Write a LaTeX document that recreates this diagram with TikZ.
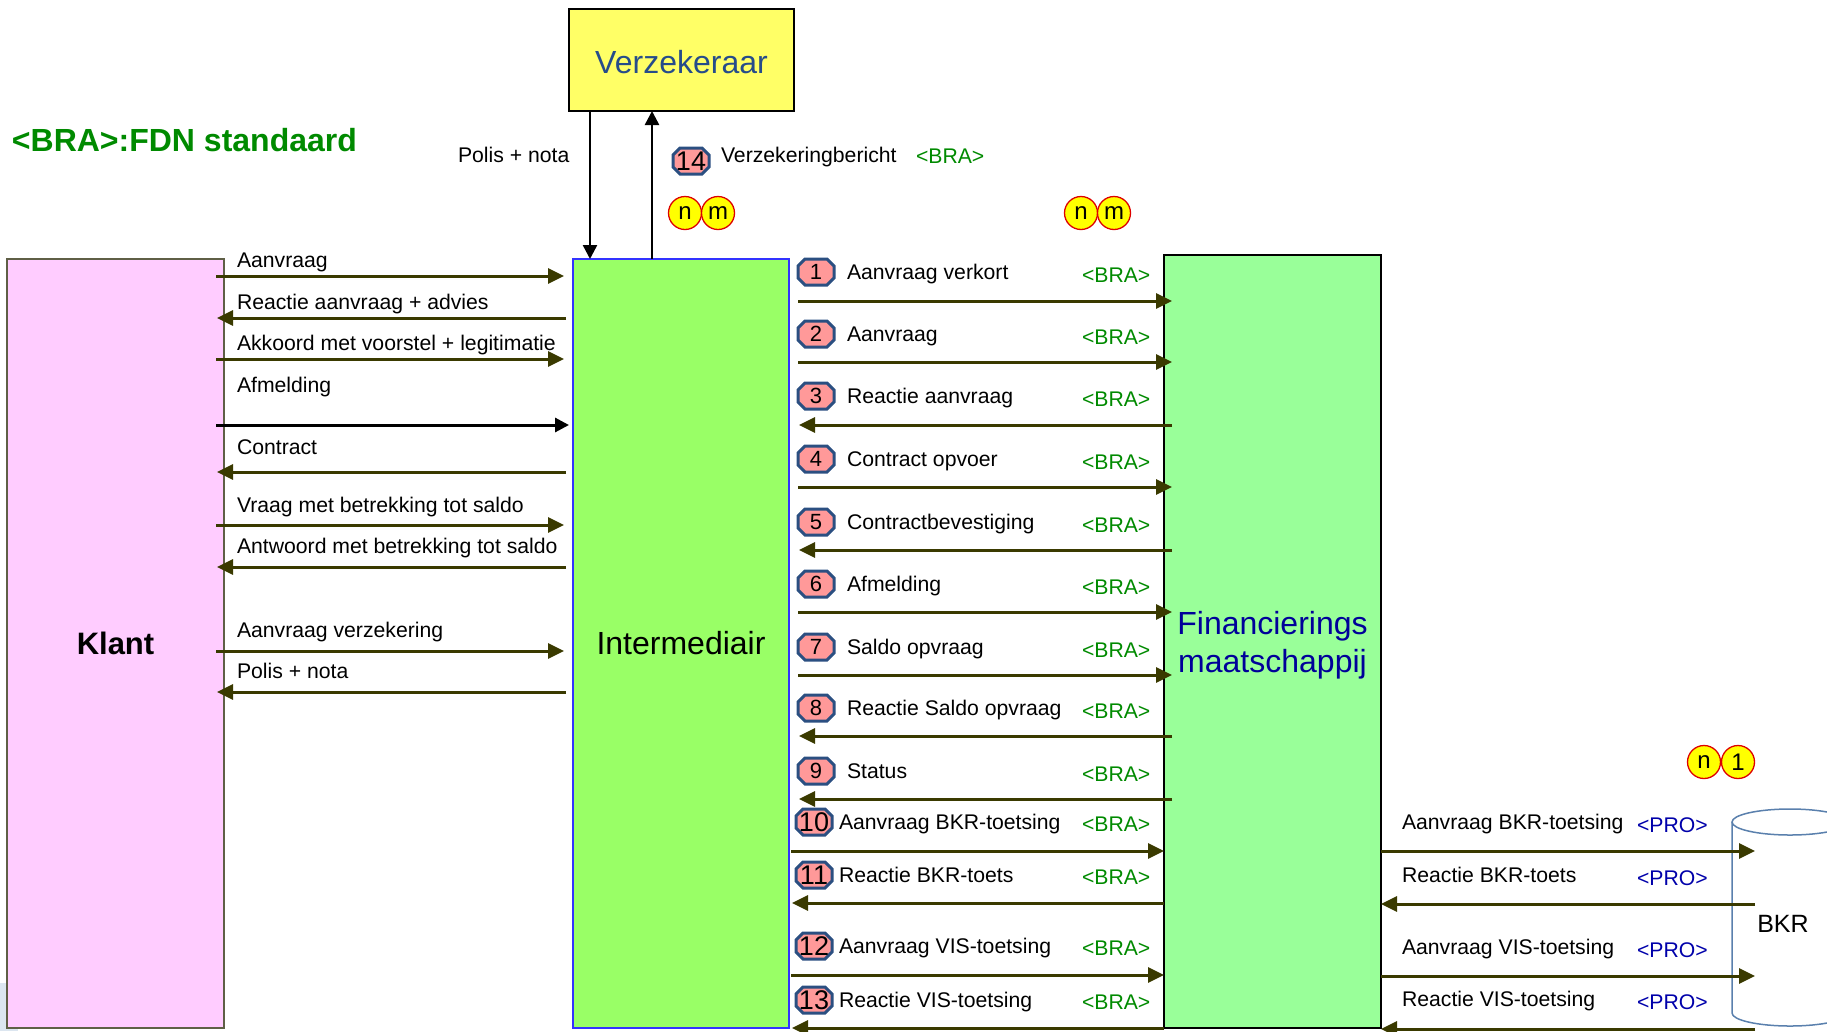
\documentclass[tikz,border=0pt]{standalone}
\usepackage{fontspec}
\setmainfont{Liberation Sans}
\usetikzlibrary{arrows.meta}

\definecolor{klantfill}{HTML}{FFCCFF}
\definecolor{klantedge}{HTML}{5F5F46}
\definecolor{intfill}{HTML}{99FF66}
\definecolor{intedge}{HTML}{3333FF}
\definecolor{finfill}{HTML}{99FF99}
\definecolor{verzfill}{HTML}{FFFF66}
\definecolor{msgline}{HTML}{3A3A00}
\definecolor{bragreen}{HTML}{008A00}
\definecolor{problue}{HTML}{0000AA}
\definecolor{badgefill}{HTML}{FF9999}
\definecolor{badgeedge}{HTML}{2B4F81}
\definecolor{finblue}{HTML}{000099}
\definecolor{verzblue}{HTML}{264C8A}
\definecolor{bkredge}{HTML}{5A80AD}
\definecolor{cornerblue}{HTML}{DCE6F0}
\definecolor{tagred}{HTML}{DD0000}
\definecolor{tagyellow}{HTML}{FFFF00}

% numbered octagonal badge: name, x, y, font size, number
\newcommand\drawbadge[5]{%
  \draw[badgeshape] ({#2-18},{#3-6}) -- ({#2-11},{#3-13}) -- ({#2+11},{#3-13})
    -- ({#2+18},{#3-6}) -- ({#2+18},{#3+6}) -- ({#2+11},{#3+13})
    -- ({#2-11},{#3+13}) -- ({#2-18},{#3+6}) -- cycle;
  \node[font=\fontsize{#4}{#4}\selectfont] (#1) at (#2,#3) {#5};}

\begin{document}
\begin{tikzpicture}[x=1pt,y=-1pt,
  every node/.style={inner sep=0pt, outer sep=0pt},
  txt/.style={font=\fontsize{21.2}{25}\selectfont, anchor=base west},
  bra/.style={txt, text=bragreen},
  pro/.style={txt, text=problue},
  flow/.style={draw=msgline, line width=3pt, -{Triangle[length=16pt,width=15pt]}},
  blackflow/.style={draw=black, line width=3pt, -{Triangle[length=14pt,width=14pt]}},
  vflow/.style={draw=black, line width=2.5pt, -{Triangle[length=14pt,width=14pt]}},
  badgeshape/.style={fill=badgefill, draw=badgeedge, line width=3pt, line join=miter},
  tag/.style={circle, minimum size=33pt, fill=tagyellow, draw=tagred, line width=1.3pt,
    font=\fontsize{24}{24}\selectfont},
  party/.style={anchor=north west, font=\fontsize{32}{35}\selectfont, align=center},
  partylabel/.style={font=\fontsize{32}{38}\selectfont, align=center},
]
\useasboundingbox (0,0) rectangle (1827,1031);
\clip (0,0) rectangle (1827,1031);

% small patch in the lower left corner
\fill[cornerblue] (0,983) rectangle (18,1031);

% the parties
\node[party, font=\fontsize{31}{35}\selectfont\bfseries, fill=klantfill, draw=klantedge,
  line width=2pt, minimum width=217pt, minimum height=769pt] (klant) at (7,259) {Klant};
\node[party, fill=intfill, draw=intedge, line width=1.2pt,
  minimum width=216pt, minimum height=769pt] (int) at (573,259) {Intermediair};
\node[party, fill=finfill, draw=black, line width=1.5pt,
  minimum width=217pt, minimum height=773pt] (fin) at (1164,255) {};
\node[partylabel, text=finblue] (finlab) at ([yshift=-4pt]fin.center) {Financierings\\maatschappij};
\node[party, fill=verzfill, draw=black, line width=1.5pt,
  minimum width=225pt, minimum height=102pt] (verz) at (569,9) {};
\node[partylabel, text=verzblue] (verzlab) at ([yshift=-2.5pt]verz.center) {Verzekeraar};

% BKR database
\draw[bkredge, line width=1.5pt, fill=white]
  (1732,822) -- (1732,1013) arc[start angle=180, end angle=360, x radius=58pt, y radius=13pt]
  -- (1848,822);
\draw[bkredge, line width=1.5pt, fill=white] (1790,822) ellipse [x radius=58pt, y radius=13pt];
\node[font=\fontsize{25}{25}\selectfont] (bkr) at (1783,924) {BKR};
\coordinate (bkrin) at (1755,0);

% legend
\node[anchor=base west, font=\fontsize{32}{35}\selectfont\bfseries, text=bragreen]
  (legend) at (12,151) {<BRA>:FDN standaard};

% Verzekeraar <-> Intermediair
\coordinate (dn) at (590,0);
\coordinate (up) at (652,0);
\draw[vflow] (verz.south -| dn) -- (int.north -| dn);
\draw[vflow] (int.north -| up) -- (verz.south -| up);
\node[txt] (polisv) at (458,162) {Polis + nota};
\drawbadge{b14}{691}{161}{27}{14}
\node[txt] (l14) at (721,162) {Verzekeringbericht};
\node[bra] (g14) at (916,163) {<BRA>};

% multiplicity tags
\node[tag] (t1n) at (685,213) {n};
\node[tag] (t1m) at (718,213) {m};
\node[tag] (t2n) at (1081,213) {n};
\node[tag] (t2m) at (1114,213) {m};
\node[tag] (t3n) at (1704,762) {n};
\node[tag] (t3o) at (1738,762) {1};

% Klant <-> Intermediair messages
\foreach \n/\bl/\lab in {1/267/Aanvraag, 2/309/Reactie aanvraag + advies,
    3/350/Akkoord met voorstel + legitimatie, 4/392/Afmelding, 5/454/Contract,
    6/512/Vraag met betrekking tot saldo, 7/553/Antwoord met betrekking tot saldo,
    8/637/Aanvraag verzekering, 9/678/Polis + nota}
  {\node[txt] (kl\n) at (237,\bl) {\lab};}
\foreach \n/\yy in {1/276, 2/318, 3/359, 4/425, 5/472, 6/525, 7/567, 8/651, 9/692}
  {\coordinate (kr\n) at (0,\yy);}
\foreach \n in {1,3,6,8}
  {\draw[flow, shorten <=-8pt, shorten >=9pt] (klant.east |- kr\n) -- (int.west |- kr\n);}
\foreach \n in {2,5,7,9}
  {\draw[flow, shorten <=7pt, shorten >=-7pt] (int.west |- kr\n) -- (klant.east |- kr\n);}
\draw[blackflow, shorten <=-8pt, shorten >=4pt] (klant.east |- kr4) -- (int.west |- kr4);

% Intermediair <-> Financieringsmaatschappij messages
\foreach \n/\by/\lab in {1/272/Aanvraag verkort, 2/334/Aanvraag, 3/396/Reactie aanvraag,
    4/459/Contract opvoer, 5/522/Contractbevestiging, 6/584/Afmelding, 7/647/Saldo opvraag,
    8/708/Reactie Saldo opvraag, 9/771/Status}
  {\drawbadge{b\n}{816}{\by}{22}{\n}
   \node[txt] (l\n) at (847,{\by+7}) {\lab};
   \node[bra] (g\n) at (1082,{\by+10}) {<BRA>};}
\foreach \n/\by/\lab in {10/822/Aanvraag BKR-toetsing, 11/875/Reactie BKR-toets,
    12/946/Aanvraag VIS-toetsing, 13/1000/Reactie VIS-toetsing}
  {\drawbadge{b\n}{814}{\by}{27}{\n}
   \node[txt] (l\n) at (839,{\by+7}) {\lab};
   \node[bra] (g\n) at (1082,{\by+9}) {<BRA>};}
\foreach \n/\yy in {1/301, 2/362, 3/425, 4/487, 5/550, 6/612, 7/675, 8/736, 9/799,
    10/851, 11/903, 12/975, 13/1028}
  {\coordinate (r\n) at (0,\yy);}
\foreach \n in {1,2,4,6,7}
  {\draw[flow, shorten <=9pt, shorten >=-8pt] (int.east |- r\n) -- (fin.west |- r\n);}
\foreach \n in {3,5,8,9}
  {\draw[flow, shorten <=-8pt, shorten >=10pt] (fin.west |- r\n) -- (int.east |- r\n);}
\foreach \n in {10,12}
  {\draw[flow, shorten <=2pt] (int.east |- r\n) -- (fin.west |- r\n);}
\foreach \n in {11,13}
  {\draw[flow, shorten >=3pt] (fin.west |- r\n) -- (int.east |- r\n);}

% Financieringsmaatschappij <-> BKR messages
\foreach \n/\bl/\lab in {1/829/Aanvraag BKR-toetsing, 2/882/Reactie BKR-toets,
    3/954/Aanvraag VIS-toetsing, 4/1006/Reactie VIS-toetsing}
  {\node[txt] (bk\n) at (1402,\bl) {\lab};
   \node[pro] (p\n) at (1637,{\bl+3}) {<PRO>};}
\foreach \n/\yy in {1/851, 2/904, 3/976, 4/1029}
  {\coordinate (q\n) at (0,\yy);}
\foreach \n in {1,3}
  {\draw[flow] (fin.east |- q\n) -- (bkrin |- q\n);}
\foreach \n in {2,4}
  {\draw[flow] (bkrin |- q\n) -- (fin.east |- q\n);}
\end{tikzpicture}
\end{document}
